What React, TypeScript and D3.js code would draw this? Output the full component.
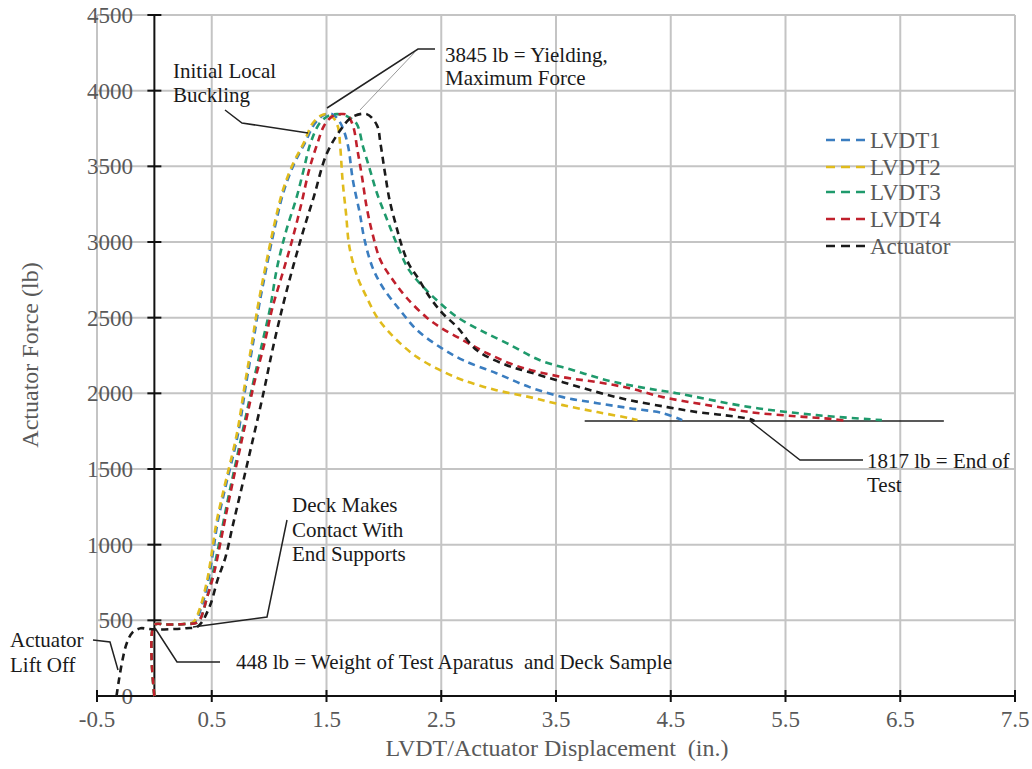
import React from 'react';
import * as d3 from 'd3';

type Pt = [number, number];

const xTicks = [-0.5, 0.5, 1.5, 2.5, 3.5, 4.5, 5.5, 6.5, 7.5];
const yTicks = [0, 500, 1000, 1500, 2000, 2500, 3000, 3500, 4000, 4500];
const seriesNames = ['LVDT1', 'LVDT2', 'LVDT3', 'LVDT4', 'Actuator'];
const seriesColors = ['#3a7dc0', '#e0bb1c', '#1f9a6c', '#c0202c', '#1a1a1a'];

const lvdt1: Pt[] = [
  [0, 0], [0, 470], [0.1, 472], [0.25, 476], [0.35, 489], [0.41, 588], [0.47, 766], [0.51, 944],
  [0.55, 1143], [0.61, 1350], [0.73, 1737], [0.8, 2067], [0.86, 2332], [0.91, 2569], [0.96, 2768],
  [1.05, 3098], [1.13, 3342], [1.22, 3520], [1.31, 3652], [1.4, 3785], [1.48, 3840], [1.55, 3845],
  [1.61, 3800], [1.65, 3738], [1.69, 3626], [1.73, 3408], [1.79, 3190], [1.83, 3020], [1.9, 2834],
  [1.99, 2701], [2.14, 2550], [2.29, 2417], [2.49, 2305], [2.69, 2219], [2.98, 2133], [3.27, 2041],
  [3.56, 1975], [3.86, 1935], [4.14, 1902], [4.43, 1869], [4.6, 1823],
];

const lvdt2: Pt[] = [
  [0, 0], [0, 470], [0.1, 472], [0.25, 476], [0.34, 489], [0.4, 588], [0.46, 766], [0.5, 944],
  [0.54, 1143], [0.6, 1350], [0.72, 1737], [0.79, 2067], [0.85, 2332], [0.9, 2569], [0.95, 2768],
  [1.04, 3098], [1.12, 3342], [1.21, 3520], [1.3, 3652], [1.38, 3785], [1.45, 3835], [1.5, 3845],
  [1.56, 3820], [1.6, 3760], [1.62, 3626], [1.64, 3408], [1.67, 3190], [1.7, 2966], [1.77, 2768],
  [1.85, 2635], [1.94, 2503], [2.03, 2417], [2.14, 2332], [2.29, 2239], [2.49, 2153], [2.69, 2087],
  [2.98, 2021], [3.27, 1975], [3.56, 1922], [3.86, 1876], [4.14, 1836], [4.21, 1823],
];

const lvdt3: Pt[] = [
  [0, 0], [0, 470], [0.1, 472], [0.28, 476], [0.38, 489], [0.46, 654], [0.51, 812], [0.57, 1030],
  [0.64, 1295], [0.79, 1823], [0.86, 2067], [0.94, 2332], [1.01, 2569], [1.07, 2834], [1.15, 3078],
  [1.24, 3296], [1.3, 3474], [1.36, 3652], [1.44, 3785], [1.52, 3835], [1.6, 3845], [1.68, 3830],
  [1.76, 3785], [1.82, 3626], [1.88, 3474], [1.94, 3322], [2.03, 3144], [2.11, 2992], [2.22, 2814],
  [2.37, 2682], [2.49, 2596], [2.64, 2503], [2.84, 2417], [3.07, 2332], [3.36, 2219], [3.65, 2153],
  [3.94, 2087], [4.23, 2041], [4.55, 2001], [5.19, 1909], [5.77, 1856], [6.21, 1830], [6.34, 1823],
];

const lvdt4: Pt[] = [
  [0, 0], [0, 470], [0.1, 472], [0.28, 476], [0.38, 489], [0.46, 654], [0.52, 812], [0.58, 1030],
  [0.65, 1295], [0.8, 1823], [0.87, 2067], [0.96, 2332], [1.03, 2569], [1.12, 2800], [1.2, 3010],
  [1.28, 3250], [1.35, 3480], [1.42, 3650], [1.48, 3770], [1.55, 3830], [1.62, 3845], [1.68, 3840],
  [1.73, 3771], [1.77, 3606], [1.81, 3428], [1.85, 3230], [1.9, 3058], [1.97, 2880], [2.08, 2748],
  [2.2, 2630], [2.37, 2503], [2.49, 2437], [2.69, 2351], [2.9, 2265], [3.19, 2173], [3.56, 2107],
  [3.86, 2074], [4.14, 2034], [4.43, 1975], [4.8, 1925], [5.19, 1876], [5.6, 1848], [5.91, 1830],
  [6.04, 1817],
];

const actuator: Pt[] = [
  [-0.33, 0], [-0.31, 100], [-0.28, 230], [-0.24, 350], [-0.19, 420], [-0.12, 448], [-0.07, 445],
  [0, 440], [0.15, 442], [0.28, 448], [0.38, 460], [0.48, 588], [0.55, 766], [0.62, 918],
  [0.68, 1116], [0.75, 1341], [0.86, 1700], [0.95, 2000], [1.03, 2290], [1.12, 2580], [1.21, 2840],
  [1.3, 3080], [1.39, 3300], [1.5, 3580], [1.62, 3738], [1.72, 3824], [1.85, 3845], [1.94, 3771],
  [1.97, 3652], [2.01, 3454], [2.05, 3276], [2.11, 3098], [2.16, 2966], [2.22, 2850], [2.29, 2770],
  [2.4, 2635], [2.51, 2530], [2.64, 2437], [2.81, 2285], [3.07, 2186], [3.27, 2140], [3.56, 2074],
  [3.86, 2008], [4.14, 1955], [4.47, 1909], [4.73, 1876], [4.96, 1856], [5.19, 1830], [5.23, 1817],
];

const seriesData = [lvdt1, lvdt2, lvdt3, lvdt4, actuator];

const endForce = 1817;
const endLineX: Pt = [3.75, 6.88];

const FONT = "'Liberation Serif', Tinos, 'DejaVu Serif', 'Times New Roman', serif";

export default function App() {
  const W = 1032;
  const H = 769;
  const x = d3.scaleLinear().domain([-0.5, 7.5]).range([97, 1015]);
  const y = d3.scaleLinear().domain([0, 4500]).range([696, 15]);
  const line = d3
    .line<Pt>()
    .x((d) => x(d[0]))
    .y((d) => y(d[1]))
    .curve(d3.curveCatmullRom.alpha(0.5));

  const gridColor = '#c4c4c4';
  const labelColor = '#595959';
  const annFont = 21;

  return (
    <svg
      width={W}
      height={H}
      style={{ position: 'absolute', left: 0, top: 0, background: '#fff', fontFamily: FONT }}
    >
      <rect x={0} y={0} width={W} height={H} fill="#fff" />
      {/* grid */}
      {xTicks.map((t) => (
        <line key={'gx' + t} x1={x(t)} x2={x(t)} y1={y(4500)} y2={y(0)} stroke={gridColor} strokeWidth={2} />
      ))}
      {yTicks.filter((t) => t > 0).map((t) => (
        <line key={'gy' + t} x1={x(-0.5)} x2={x(7.5)} y1={y(t)} y2={y(t)} stroke={gridColor} strokeWidth={2} />
      ))}

      {/* y tick labels */}
      {yTicks.map((t) => (
        <text key={'yl' + t} x={133} y={y(t) + 8} textAnchor="end" fontSize={23} fill={labelColor}>
          {t}
        </text>
      ))}
      {/* x tick labels */}
      {xTicks.map((t) => (
        <text key={'xl' + t} x={x(t)} y={727} textAnchor="middle" fontSize={23} fill={labelColor}>
          {t.toFixed(1)}
        </text>
      ))}

      {/* axes */}
      <line x1={x(-0.5)} x2={x(7.5)} y1={y(0)} y2={y(0)} stroke="#111" strokeWidth={2} />
      <line x1={x(0)} x2={x(0)} y1={y(0)} y2={y(4500)} stroke="#111" strokeWidth={2} />
      {xTicks.map((t) => (
        <line key={'xt' + t} x1={x(t)} x2={x(t)} y1={y(0) - 6} y2={y(0) + 6} stroke="#111" strokeWidth={2} />
      ))}
      {yTicks.filter((t) => t > 0).map((t) => (
        <line key={'yt' + t} x1={x(0) - 7} x2={x(0) + 7} y1={y(t)} y2={y(t)} stroke="#111" strokeWidth={2} />
      ))}

      {/* axis titles */}
      <text x={557} y={756} textAnchor="middle" fontSize={24} fill={labelColor}>
        {'LVDT/Actuator Displacement\u00a0 (in.)'}
      </text>
      <text
        transform={`translate(38, 355) rotate(-90)`}
        textAnchor="middle"
        fontSize={24}
        fill={labelColor}
      >
        Actuator Force (lb)
      </text>

      {/* 1817 reference line */}
      <line
        x1={x(endLineX[0])}
        x2={x(endLineX[1])}
        y1={y(endForce)}
        y2={y(endForce)}
        stroke="#222"
        strokeWidth={1.5}
      />

      {/* series */}
      {seriesData.map((d, i) => (
        <path
          key={'s' + i}
          d={line(d) || ''}
          fill="none"
          stroke={seriesColors[i]}
          strokeWidth={2.6}
          strokeDasharray="7,5"
        />
      ))}

      {/* legend */}
      {seriesNames.map((n, i) => {
        const ly = [140, 167, 192, 219, 246][i];
        return (
          <g key={'lg' + n}>
            <line x1={826} x2={866} y1={ly} y2={ly} stroke={seriesColors[i]} strokeWidth={2.6} strokeDasharray="9,6" />
            <text x={870} y={ly + 8} fontSize={23} fill={labelColor}>
              {n}
            </text>
          </g>
        );
      })}

      {/* annotations */}
      <g stroke="#222" strokeWidth={1.5} fill="none">
        <polyline points="225,110 242,123 308,133" />
        <polyline points="327,108 418,49 435,49" />
        <polyline points="193,627 267,617 287,520" />
        <polyline points="155,628 177,662 220,662" />
        <polyline points="93,640 110,642 118,670" />
        <polyline points="750,421 800,460 863,460" />
      </g>
      <line x1={415} y1={52} x2={360} y2={110} stroke="#999" strokeWidth={1} />

      <g fontSize={annFont} fill="#1a1a1a">
        <text x={173} y={78}>Initial Local</text>
        <text x={173} y={102}>Buckling</text>
        <text x={445} y={62}>3845 lb = Yielding,</text>
        <text x={445} y={85}>Maximum Force</text>
        <text x={292} y={512}>Deck Makes</text>
        <text x={292} y={537}>Contact With</text>
        <text x={292} y={561}>End Supports</text>
        <text x={236} y={669}>{'448 lb = Weight of Test Aparatus\u00a0 and Deck Sample'}</text>
        <text x={10} y={647}>Actuator</text>
        <text x={10} y={672}>Lift Off</text>
        <text x={867} y={468}>1817 lb = End of</text>
        <text x={867} y={492}>Test</text>
      </g>
    </svg>
  );
}
